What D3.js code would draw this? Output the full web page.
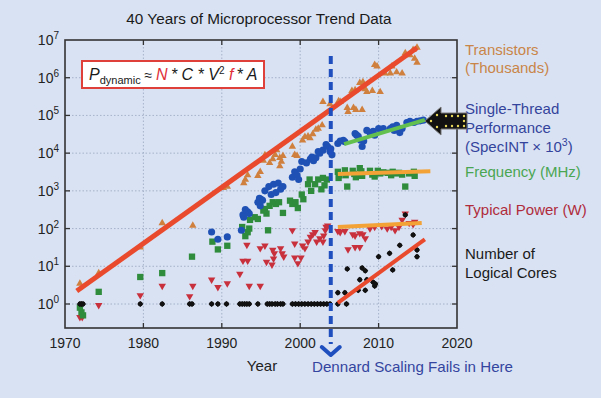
<!DOCTYPE html>
<html><head><meta charset="utf-8">
<script src="https://cdn.jsdelivr.net/npm/d3@7"></script>
<style>
html,body{margin:0;padding:0;background:#d9e2f3;}
svg{display:block;font-family:"Liberation Sans",Arial,Helvetica,sans-serif;}
</style></head><body>
<svg id="c" width="601" height="398"></svg>
<script>
// ---------- data ----------
const xTicks = [1970, 1980, 1990, 2000, 2010, 2020];
const yExponents = [0, 1, 2, 3, 4, 5, 6, 7];

const transistors = [[1971.9,3.5],[1974.3,6.6],[1979.6,32],[1982.4,140],[1986.3,120],[1990.2,1200],[1990.7,1300],[1992.8,1600],[1993.0,2000],[1993.3,2600],[1994.6,2500],[1994.9,3200],[1995.3,6300],[1995.5,8900],[1996.1,5500],[1996.5,7000],[1996.8,9000],[1997.0,12000],[1997.4,7500],[1997.6,6000],[1997.8,8500],[1997.4,4500],[1999.0,15000],[1999.3,9000],[1999.6,8500],[2000.3,22000],[2000.6,27000],[2001.0,28000],[2001.25,25000],[2001.6,32000],[2002.0,42000],[2002.3,45000],[2002.8,55000],[2002.9,230000],[2003.8,200000],[2004.9,240000],[2005.1,230000],[2006.0,160000],[2006.1,125000],[2006.8,160000],[2007.1,140000],[2007.9,140000],[2006.6,450000],[2007.0,470000],[2007.6,730000],[2008.0,770000],[2008.3,500000],[2008.5,420000],[2009.2,450000],[2010.2,420000],[2009.5,2.2e6],[2009.8,2e6],[2010.8,1.3e6],[2011.5,1.3e6],[2012.3,1.4e6],[2013.0,1.3e6],[2011.7,2e6],[2013.4,4.5e6],[2014.0,4e6],[2014.4,5.5e6],[2014.9,6.3e6],[2014.6,3.2e6],[2014.9,2.5e6]];

const singleThread = [[1988.7,81],[1989.5,52],[1990.7,60],[1992.5,90],[1992.7,230],[1993.0,320],[1993.3,280],[1993.5,250],[1992.8,200],[1994.9,400],[1995.0,600],[1994.8,630],[1994.6,500],[1995.2,560],[1995.5,1000],[1996.0,1300],[1996.3,800],[1996.6,1500],[1996.9,900],[1997.2,1600],[1997.5,1100],[1997.8,1300],[1999.0,2300],[1999.3,3200],[1999.6,2600],[1999.8,2000],[2000.0,3800],[2000.2,6000],[2000.8,5500],[2001.3,7000],[2001.5,7900],[2001.7,6300],[2002.0,7500],[2002.3,11000],[2002.5,10000],[2002.9,12000],[2003.3,17000],[2003.5,15000],[2003.8,11000],[2003.9,13000],[2004.05,9000],[2004.8,18000],[2005.1,21000],[2005.5,22000],[2005.7,20000],[2007.0,33000],[2007.2,30000],[2007.4,28000],[2007.9,15000],[2007.7,22000],[2008.1,21000],[2008.5,40000],[2008.9,35000],[2009.3,38000],[2009.5,30000],[2010.0,45000],[2010.3,40000],[2010.6,45000],[2011.5,45000],[2011.8,50000],[2012.0,40000],[2012.3,55000],[2012.7,35000],[2013.0,45000],[2013.6,65000],[2014.0,70000],[2014.5,65000],[2014.9,70000],[2015.3,72000],[2015.7,75000]];

const frequency = [[1971.9,0.8],[1972.1,0.6],[1972.3,0.5],[1974.3,2.1],[1979.6,5.2],[1982.4,6.6],[1986.2,18],[1988.8,45],[1989.5,28],[1990.7,35],[1992.6,110],[1993.0,63],[1993.3,80],[1993.5,100],[1993.6,170],[1994.2,200],[1994.6,180],[1995.3,300],[1995.5,330],[1995.7,250],[1995.9,90],[1996.1,400],[1996.5,500],[1996.9,450],[1997.3,500],[1997.8,260],[1998.7,550],[1999.0,450],[1999.4,500],[1999.7,350],[2000.2,800],[2000.4,600],[2001.0,1500],[2001.2,2000],[2001.4,1000],[2001.9,1500],[2002.3,2000],[2002.7,1100],[2002.9,2200],[2003.1,1400],[2003.4,2000],[2004.8,3200],[2005.0,2600],[2004.9,2200],[2005.7,3500],[2005.8,2600],[2006.0,1300],[2006.7,3400],[2006.9,2800],[2007.1,2300],[2007.6,4000],[2007.8,3300],[2007.9,2500],[2008.9,3400],[2009.2,2700],[2009.5,2400],[2009.9,3400],[2010.2,2900],[2010.6,3100],[2011.2,3000],[2011.6,2600],[2011.8,3200],[2012.2,2900],[2012.6,3000],[2013.0,2700],[2013.4,1300],[2013.9,2900],[2014.5,3200],[2014.6,2500]];

const power = [[1971.9,0.45],[1972.2,0.45],[1974.3,0.93],[1979.6,1.7],[1982.4,3],[1985.9,1.6],[1986.3,3],[1988.7,4.4],[1989.5,2.8],[1990.7,3.5],[1992.3,6.3],[1992.7,14],[1993.3,14],[1993.2,37],[1993.5,3],[1994.9,3],[1994.9,30],[1995.7,13],[1996.4,11],[1996.6,16],[1995.5,35],[1996.5,27],[1996.7,22],[1997.5,30],[1997.7,22],[1997.9,18],[1999.0,90],[1999.3,40],[1999.3,17],[1999.7,12],[2000.1,17],[2000.3,35],[2000.6,30],[2001.0,45],[2001.3,60],[2001.6,70],[2001.9,80],[2002.1,45],[2002.5,55],[2002.9,45],[2003.0,65],[2003.2,90],[2003.5,120],[2003.3,110],[2004.8,85],[2005.1,80],[2005.7,85],[2006.1,28],[2007.0,32],[2007.6,32],[2006.7,70],[2007.0,65],[2007.6,75],[2008.0,70],[2008.3,55],[2008.9,100],[2009.5,110],[2010.4,115],[2011.1,100],[2011.6,110],[2012.1,90],[2012.6,110],[2013.0,170],[2013.4,250],[2013.9,140],[2014.4,130],[2014.6,150]];

const cores = [[1971.9,1],[1972.1,1],[1972.3,1],[1979.6,1],[1982.4,1],[1985.9,1],[1986.2,1],[1988.7,1],[1989.5,1],[1990.6,1],[1992.3,1],[1992.6,1],[1992.9,1],[1993.2,1],[1993.5,1],[1994.6,1],[1995.8,1],[1996.1,1],[1996.4,1],[1996.8,1],[1997.1,1],[1997.5,1],[1997.8,1],[1999.0,1],[1999.4,1],[1999.8,1],[2000.2,1],[2000.6,1],[2001.0,1],[2001.4,1],[2001.8,1],[2002.2,1],[2002.6,1],[2003.0,1],[2003.4,1],[2003.8,1],[2004.8,1],[2005.9,1],[2004.8,2],[2005.7,2],[2006.0,8.5],[2007.9,9],[2008.3,7.6],[2007.6,4.4],[2008.5,4.4],[2007.4,2.3],[2008.3,2.3],[2009.3,3.8],[2009.5,3],[2009.6,3.4],[2010.0,18],[2011.4,22],[2011.8,8],[2012.7,36],[2014.4,68],[2014.9,27],[2014.9,18],[2013.4,230]];

const transistorTrend = [[1971.5,2.2],[2014.9,6.2e6]];
const singleThreadTrend = [[2005.6,1.74e4],[2015.9,7.6e4]];
const frequencyTrend = [[2004.8,2800],[2016.6,3300]];
const powerTrend = [[2004.8,110],[2015.5,141]];
const coresTrend = [[2004.8,1.07],[2015.9,52]];
const dennardYear = 2003.9;

const seriesLabels = [
  {lines:["Transistors","(Thousands)"], color:"#c98548"},
  {lines:["Single-Thread","Performance","(SpecINT × 10³)"], color:"#34449c"},
  {lines:["Frequency (MHz)"], color:"#4aa652"},
  {lines:["Typical Power (W)"], color:"#b02c3c"},
  {lines:["Number of","Logical Cores"], color:"#1a1a1a"}
];

// ---------- layout ----------
const L = 65, R = 457, T = 40, B = 328;
const svg = d3.select("#c");
const x = d3.scaleLinear().domain([1970, 2020]).range([L, R]);
const y = d3.scaleLog().domain([1, 1e7]).range([304, T]);

// title
svg.append("text").attr("x", 259).attr("y", 24).attr("text-anchor","middle")
  .attr("font-size", 15.3).attr("fill","#1a1a1a").text("40 Years of Microprocessor Trend Data");

// grid
const g = svg.append("g");
g.selectAll(".gx").data(xTicks.slice(1,-1)).join("line")
  .attr("x1", d=>x(d)).attr("x2", d=>x(d)).attr("y1", T).attr("y2", B)
  .attr("stroke","#98a6bf").attr("stroke-width",0.8).attr("stroke-dasharray","1.5,2");
g.selectAll(".gy").data(yExponents.slice(0,-1)).join("line")
  .attr("x1", L).attr("x2", R).attr("y1", d=>y(10**d)).attr("y2", d=>y(10**d))
  .attr("stroke","#98a6bf").attr("stroke-width",0.8).attr("stroke-dasharray","1.5,2");

// points
const pts = svg.append("g");
const sym = (type, size) => d3.symbol().type(type).size(size)();
pts.selectAll(".tr").data(transistors).join("path")
  .attr("d", sym(d3.symbolTriangle, 24))
  .attr("transform", d=>`translate(${x(d[0])},${y(d[1])})`).attr("fill","#d0803e");
pts.selectAll(".pw").data(power).join("path")
  .attr("d", sym(d3.symbolTriangle, 24))
  .attr("transform", d=>`translate(${x(d[0])},${y(d[1])}) rotate(180)`).attr("fill","#c8303c");
pts.selectAll(".fq").data(frequency).join("path")
  .attr("d", sym(d3.symbolSquare, 40))
  .attr("transform", d=>`translate(${x(d[0])},${y(d[1])})`).attr("fill","#2f8c3c");
pts.selectAll(".st").data(singleThread).join("path")
  .attr("d", sym(d3.symbolCircle, 40))
  .attr("transform", d=>`translate(${x(d[0])},${y(d[1])})`).attr("fill","#1f51b5");
pts.selectAll(".co").data(cores).join("path")
  .attr("d", sym(d3.symbolSquare, 18))
  .attr("transform", d=>`translate(${x(d[0])},${y(d[1])}) rotate(45)`).attr("fill","#111");
pts.selectAll(".co2").data(cores).join("circle")
  .attr("cx", d=>x(d[0])).attr("cy", d=>y(d[1])).attr("r", 2.4).attr("fill","#111");

// trend lines
const line = d3.line().x(d=>x(d[0])).y(d=>y(d[1]));
const trends = [
  [transistorTrend, "#e9492c", 5],
  [singleThreadTrend, "#63c04f", 4],
  [frequencyTrend, "#f3a235", 4],
  [powerTrend, "#f3a235", 4],
  [coresTrend, "#e9492c", 4]
];
trends.forEach(([d,c,w]) => svg.append("path").attr("d", line(d)).attr("fill","none")
  .attr("stroke", c).attr("stroke-width", w).attr("stroke-linecap","butt"));

// frame & ticks
svg.append("rect").attr("x",L).attr("y",T).attr("width",R-L).attr("height",B-T)
  .attr("fill","none").attr("stroke","#333").attr("stroke-width",1.6);
xTicks.slice(1,-1).forEach(t => {
  svg.append("line").attr("x1",x(t)).attr("x2",x(t)).attr("y1",B).attr("y2",B-5).attr("stroke","#333").attr("stroke-width",1.3);
  svg.append("line").attr("x1",x(t)).attr("x2",x(t)).attr("y1",T).attr("y2",T+5).attr("stroke","#333").attr("stroke-width",1.3);
});
yExponents.slice(0,-1).forEach(e => {
  svg.append("line").attr("x1",L).attr("x2",L+5).attr("y1",y(10**e)).attr("y2",y(10**e)).attr("stroke","#333").attr("stroke-width",1.3);
  svg.append("line").attr("x1",R).attr("x2",R-5).attr("y1",y(10**e)).attr("y2",y(10**e)).attr("stroke","#333").attr("stroke-width",1.3);
});

// x tick labels
svg.selectAll(".xl").data(xTicks).join("text")
  .attr("x", d=>x(d)).attr("y", 348).attr("text-anchor","middle")
  .attr("font-size",14).attr("fill","#222").text(d=>d);
// y tick labels
yExponents.forEach(e => {
  const t = svg.append("text").attr("x", 59).attr("y", y(10**e)+5).attr("text-anchor","end")
    .attr("font-size",14).attr("fill","#222");
  t.append("tspan").text("10");
  t.append("tspan").attr("dy",-6).attr("font-size",10).text(e);
});

// axis titles
svg.append("text").attr("x",262).attr("y",371).attr("text-anchor","middle")
  .attr("font-size",15).attr("fill","#222").text("Year");
svg.append("text").attr("x",312).attr("y",372).attr("textLength",201).attr("lengthAdjust","spacingAndGlyphs")
  .attr("font-size",15).attr("fill","#34459f").text("Dennard Scaling Fails in Here");

// Dennard line
const dx = x(dennardYear);
svg.append("line").attr("x1",dx).attr("x2",dx).attr("y1",56).attr("y2",344)
  .attr("stroke","#1f4fbf").attr("stroke-width",4).attr("stroke-dasharray","8,5");
svg.append("path").attr("d",`M${dx-9},${347} L${dx},${355} L${dx+9},${347}`)
  .attr("fill","none").attr("stroke","#1f4fbf").attr("stroke-width",4).attr("stroke-linejoin","round").attr("stroke-linecap","round");

// right labels
const labelY = [[55,73],[114,133,152],[177],[215],[259,278]];
seriesLabels.forEach((s,i) => {
  s.lines.forEach((ln,j) => {
    const t = svg.append("text").attr("x",465).attr("y",labelY[i][j])
      .attr("font-size",15).attr("fill",s.color);
    if (ln.includes("10³")) {
      t.append("tspan").text("(SpecINT × 10");
      t.append("tspan").attr("dy",-6).attr("font-size",10.5).text("3");
      t.append("tspan").attr("dy",6).text(")");
    } else t.text(ln);
  });
});

// arrow
const ay = 121;
svg.append("path")
  .attr("d",`M425,${ay} L441,${ay-14} L441,${ay-8} L467,${ay-8} L467,${ay+8} L441,${ay+8} L441,${ay+14} Z`)
  .attr("fill","#111").attr("stroke","#777").attr("stroke-width",1);
const dots = [[431,ay],[437,ay-6],[437,ay+6],[446,ay-5],[452,ay-5],[458,ay-5],[464,ay-5],[446,ay+5],[452,ay+5],[458,ay+5],[464,ay+5],[464,ay]];
dots.forEach(([px,py]) => svg.append("circle").attr("cx",px).attr("cy",py).attr("r",1.2).attr("fill","#e8d85a"));

// equation box
svg.append("rect").attr("x",82).attr("y",61).attr("width",182).attr("height",27)
  .attr("fill","#ffffff").attr("stroke","#e0403a").attr("stroke-width",2);
const eq = svg.append("text").attr("x",89).attr("y",80).attr("font-size",16).attr("fill","#1a1a1a");
eq.append("tspan").attr("font-style","italic").text("P");
eq.append("tspan").attr("font-size",11).attr("dy",4).text("dynamic");
eq.append("tspan").attr("dy",-4).attr("font-size",14).text(" ≈ ");
eq.append("tspan").attr("font-style","italic").attr("fill","#e0303a").text("N");
eq.append("tspan").attr("font-style","italic").text("\u2009* C * V");
eq.append("tspan").attr("font-size",10).attr("dy",-6).text("2");
eq.append("tspan").attr("dy",6).attr("font-style","italic").attr("fill","#e0303a").text(" f");
eq.append("tspan").attr("font-style","italic").text("\u2009* A");
</script>
</body></html>
